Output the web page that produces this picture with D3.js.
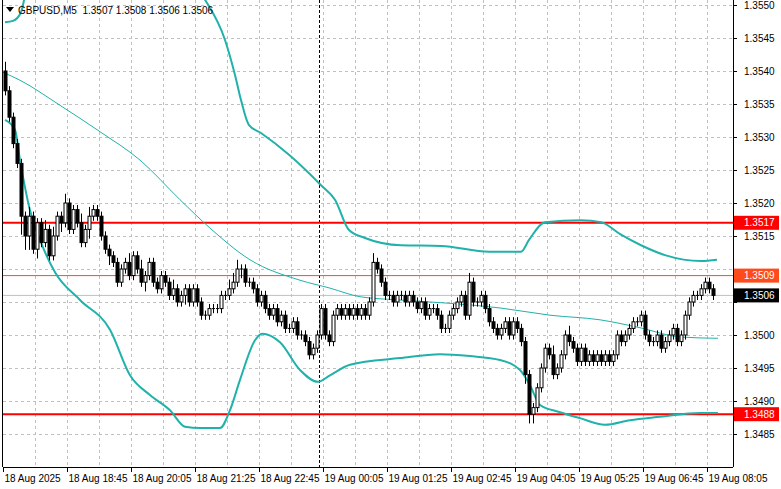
<!DOCTYPE html>
<html><head><meta charset="utf-8">
<script src="https://cdn.jsdelivr.net/npm/d3@7"></script>
<style>body{margin:0;background:#fff}svg{display:block}</style>
</head><body><svg id="c" width="781" height="489"></svg>
<script>
const symbolTitle = "GBPUSD,M5  1.3507 1.3508 1.3506 1.3506";
const firstOpen = 1.3540;
const close = [
1.3537,1.3533,1.3529,1.3526,1.3518,
1.3515,1.3518,1.3513,1.3517,1.3514,1.3516,1.3512,1.3515,1.3518,1.3517,1.3520,1.3516,1.3519,1.3517,1.3514,1.3516,1.3518,1.3519,1.3518,1.3515,1.3513,
1.3512,1.3511,1.3508,1.3510,1.3511,1.3509,1.3512,1.3510,1.3508,1.3509,1.3511,1.3508,1.3507,1.3509,
1.3508,1.3506,1.3507,1.3505,1.3506,
1.3507,1.3505,1.3507,1.3505,1.3503,1.3503,1.3504,1.3504,1.3504,1.3506,1.3506,1.3507,1.3508,1.3510,1.3510,1.3508,1.3508,1.3507,1.3505,1.3506,1.3504,1.3503,1.3504,1.3502,1.3503,1.3501,1.3501,1.3502,1.3500,1.3500,1.3499,1.3497,1.3498,1.3500,
1.3504,1.3500,1.3499,1.3503,1.3504,1.3503,1.3504,1.3503,1.3504,1.3503,1.3504,1.3503,1.3505,1.3511,1.3510,1.3508,1.3506,
1.3506,1.3505,1.3506,1.3506,1.3505,1.3506,1.3505,1.3504,1.3505,1.3503,1.3504,1.3504,1.3503,1.3501,1.3501,1.3503,1.3504,1.3505,1.3506,1.3503,1.3508,1.3505,1.3505,1.3506,1.3504,1.3502,1.3501,1.3500,1.3501,1.3502,1.3500,1.3502,1.3501,1.3499,1.3494,1.3488,1.3489,1.3492,
1.3495,1.3498,1.3497,1.3494,1.3495,1.3497,1.3500,1.3499,1.3498,1.3496,1.3498,1.3496,1.3497,1.3496,1.3497,1.3496,1.3497,1.3496,1.3497,1.3500,1.3499,1.3500,1.3501,1.3502,1.3502,1.3503,1.3500,1.3499,1.3499,1.3500,1.3498,1.3499,1.3500,1.3501,1.3499,1.3500,1.3503,1.3505,1.3506,1.3506,1.3507,1.3508,1.3507,1.3506];
const wickUp = [2,1,1,1,1,1,2,1,1,1, 2,1,2,1,1,2,1,1,1,2, 1,2,1,1,1,1,1,1,1,1, 1,2,1,1,2,1,1,1,1,1,
1,1,2,1,1,1,1,1,1,1, 1,1,1,1,1,1,2,2,2,1, 1,1,1,1,1,1,1,1,1,1, 1,1,1,1,1,1,1,1,1,1,
1,1,1,1,1,1,1,1,1,1, 1,1,2,1,1,1,1,1,1,1, 1,1,1,1,1,1,1,1,1,1, 1,1,1,1,1,1,2,1,1,1,
1,1,1,1,1,1,1,1,1,1, 1,1,1,1,1,1,1,2,1,1, 1,2,1,1,1,1,1,1,1,1, 1,1,1,1,1,1,1,1,1,1,
1,1,1,1,1,1,1,1,1,1, 1,1,1,1,1,1,1,1];
const wickDn = [1,1,1,1,4,3,3,1,2,1, 1,1,1,1,2,1,1,1,1,1, 1,2,1,1,1,1,2,1,1,1, 1,1,1,1,1,2,1,1,1,1,
1,1,1,1,1,2,1,1,1,1, 1,1,1,1,1,1,1,1,1,2, 1,1,1,1,1,1,1,1,1,1, 1,1,1,1,1,1,1,1,1,1,
1,1,1,1,1,1,1,1,1,1, 1,1,1,1,1,1,1,1,1,1, 1,1,1,1,1,1,1,1,1,1, 1,1,1,1,1,1,1,1,1,1,
1,1,1,1,1,1,1,1,1,1, 2,2,2,1,1,1,1,1,1,1, 1,1,1,1,1,1,1,1,1,1, 1,1,1,1,1,1,1,1,1,1,
1,1,1,1,1,1,1,1,1,1, 1,1,1,1,1,1,1,1];
// bands: [bar index, price]
const upperBand = [[0,1.35474],[2,1.35476],[4,1.35489],[6,1.35538],[24,1.35598],[44,1.35553],[50,1.35508],[55,1.35447],[57.5,1.35394],[59,1.35356],[61,1.35318],[64,1.35306],[71,1.35273],[79,1.35227],[82.5,1.35205],[86,1.35159],[90,1.35147],[99,1.35136],[109,1.35135],[121,1.35126],[129,1.35126],[131,1.35144],[135,1.35171],[144,1.35174],[149,1.35171],[154,1.35152],[159,1.35136],[165,1.35121],[174,1.35112],[178,1.35114]];
const lowerBand = [[0,1.35326],[2.5,1.35311],[3.75,1.35265],[6.25,1.35189],[8.75,1.35144],[12.5,1.35095],[18.75,1.35053],[26.25,1.35008],[31.25,1.34939],[36.25,1.34909],[41.25,1.34886],[45,1.34861],[48.75,1.34859],[53.75,1.34859],[56.25,1.34886],[58.75,1.34932],[62.5,1.34992],[64.25,1.35002],[68.75,1.34989],[73.75,1.34947],[78.25,1.34929],[81.25,1.34939],[86.25,1.34955],[98.75,1.34965],[108.75,1.34971],[116.25,1.34968],[123.75,1.34962],[128.75,1.34947],[131.25,1.34924],[133.75,1.34894],[138.75,1.34883],[143.75,1.34874],[150,1.34864],[156.25,1.34871],[163.75,1.34876],[173.75,1.34882],[178.25,1.34882]];
const midBand = [[-0.5,1.35398],[3.75,1.35386],[13.75,1.35348],[23.75,1.35308],[33.75,1.35265],[43.75,1.35205],[51.25,1.35162],[61.25,1.35114],[73.75,1.35083],[81.25,1.35071],[88.75,1.35058],[98.75,1.35053],[111.25,1.35048],[123.75,1.35041],[136.25,1.35030],[148.75,1.35023],[158.75,1.35011],[168.75,1.34997],[178.25,1.34995]];
const priceTicks = [1.3550,1.3545,1.3540,1.3535,1.3530,1.3525,1.3520,1.3515,1.3510,1.3505,1.3500,1.3495,1.3490,1.3485];
const timeLabels = ["18 Aug 2025","18 Aug 18:45","18 Aug 20:05","18 Aug 21:25","18 Aug 22:45","19 Aug 00:05","19 Aug 01:25","19 Aug 02:45","19 Aug 04:05","19 Aug 05:25","19 Aug 06:45","19 Aug 08:05"];
const levels = [{p:1.3517,c:"#ff0000",w:2,lbl:"1.3517",bg:"#ff0000"},{p:1.3488,c:"#ff0000",w:2,lbl:"1.3488",bg:"#ff0000"},{p:1.3509,c:"#ff4a1a",w:1,lbl:"1.3509",bg:"#ff4a1a"},{p:1.3506,c:"#c0c0c0",w:1,lbl:"1.3506",bg:"#000000"}];
const separatorBar = 79;
const pipSize = 0.0001;

const svg = d3.select("#c");
const L=3,R=733,T=0,B=467;
const x = d3.scaleLinear().domain([0,182.5]).range([L,R]);
const y = d3.scaleLinear().domain([1.3485,1.3550]).range([434,5]);
const font = "Liberation Sans, Arial, sans-serif";
const fs = 10;

svg.append("defs").append("clipPath").attr("id","pc").append("rect").attr("x",L).attr("y",T).attr("width",R-L).attr("height",B-T);

const g = svg.append("g");
priceTicks.forEach(p=>g.append("line").attr("x1",L).attr("x2",R).attr("y1",Math.round(y(p))+0.5).attr("y2",Math.round(y(p))+0.5).attr("stroke","#c0c0c0").attr("stroke-dasharray","3,3"));
for(let b=8;b<182;b+=8) g.append("line").attr("x1",x(b)+0.5).attr("x2",x(b)+0.5).attr("y1",T).attr("y2",B).attr("stroke","#c0c0c0").attr("stroke-dasharray","3,3");

svg.append("line").attr("x1",x(separatorBar)+0.5).attr("x2",x(separatorBar)+0.5).attr("y1",T).attr("y2",B).attr("stroke","#000").attr("stroke-dasharray","3,2");

const plot = svg.append("g").attr("clip-path","url(#pc)");
levels.forEach(l=>plot.append("line").attr("x1",L).attr("x2",R).attr("y1",y(l.p)).attr("y2",y(l.p)).attr("stroke",l.c).attr("stroke-width",l.w));

const line = d3.line().x(d=>x(d[0]+0.5)).y(d=>y(d[1])).curve(d3.curveMonotoneX);
plot.append("path").attr("d",line(upperBand)).attr("fill","none").attr("stroke","#20b2aa").attr("stroke-width",2);
plot.append("path").attr("d",line(lowerBand)).attr("fill","none").attr("stroke","#20b2aa").attr("stroke-width",2);
plot.append("path").attr("d",line(midBand)).attr("fill","none").attr("stroke","#20b2aa").attr("stroke-width",1);

close.forEach((c,i)=>{
  const o = i===0?firstOpen:close[i-1];
  const hi = Math.max(o,c)+wickUp[i]*pipSize*0.7, lo = Math.min(o,c)-wickDn[i]*pipSize*0.7;
  const cx = Math.round(x(i+0.5))+0.5;
  plot.append("line").attr("x1",cx).attr("x2",cx).attr("y1",y(hi)).attr("y2",y(lo)).attr("stroke","#000");
  const y1=y(Math.max(o,c)), y2=y(Math.min(o,c));
  if(Math.abs(o-c)<1e-7){
    plot.append("line").attr("x1",cx-1.5).attr("x2",cx+1.5).attr("y1",y1).attr("y2",y1).attr("stroke","#000");
  } else {
    plot.append("rect").attr("x",cx-1.5).attr("y",y1).attr("width",3).attr("height",Math.max(1,y2-y1))
      .attr("fill",c>o?"#fff":"#000").attr("stroke","#000").attr("stroke-width",1);
  }
});

svg.append("line").attr("x1",R+0.5).attr("x2",R+0.5).attr("y1",0).attr("y2",B).attr("stroke","#000");
svg.append("line").attr("x1",L-0.5).attr("x2",L-0.5).attr("y1",0).attr("y2",B).attr("stroke","#000");
svg.append("line").attr("x1",L).attr("x2",R).attr("y1",B+0.5).attr("y2",B+0.5).attr("stroke","#000");

const tagged = levels.map(l=>l.p);
priceTicks.forEach(p=>{
  const yy=Math.round(y(p))+0.5;
  svg.append("line").attr("x1",R).attr("x2",R+4).attr("y1",yy).attr("y2",yy).attr("stroke","#000");
  // labels hidden behind a price tag are not drawn
  if(tagged.some(t=>Math.abs(y(t)-y(p))<12)) return;
  svg.append("text").attr("x",744).attr("y",yy+3.5).text(p.toFixed(4)).attr("font-family",font).attr("font-size",fs).attr("fill","#000");
});
timeLabels.forEach((t,k)=>{
  const xx=Math.round(x(k*16))+0.5;
  svg.append("line").attr("x1",xx).attr("x2",xx).attr("y1",B).attr("y2",B+5).attr("stroke","#000");
  svg.append("text").attr("x",xx+1).attr("y",482).text(t).attr("font-family",font).attr("font-size",fs).attr("fill","#000");
});

levels.forEach(l=>{
  const yy=y(l.p);
  svg.append("rect").attr("x",R+1).attr("y",yy-7).attr("width",45).attr("height",14).attr("fill",l.bg);
  svg.append("text").attr("x",744).attr("y",yy+3.5).text(l.lbl).attr("font-family",font).attr("font-size",fs).attr("fill","#fff");
});

svg.append("path").attr("d","M6,7 L14,7 L10,12 Z").attr("fill","#000");
svg.append("text").attr("x",18).attr("y",14).text(symbolTitle).attr("font-family",font).attr("font-size",fs).attr("fill","#000").style("white-space","pre");
</script></body></html>
